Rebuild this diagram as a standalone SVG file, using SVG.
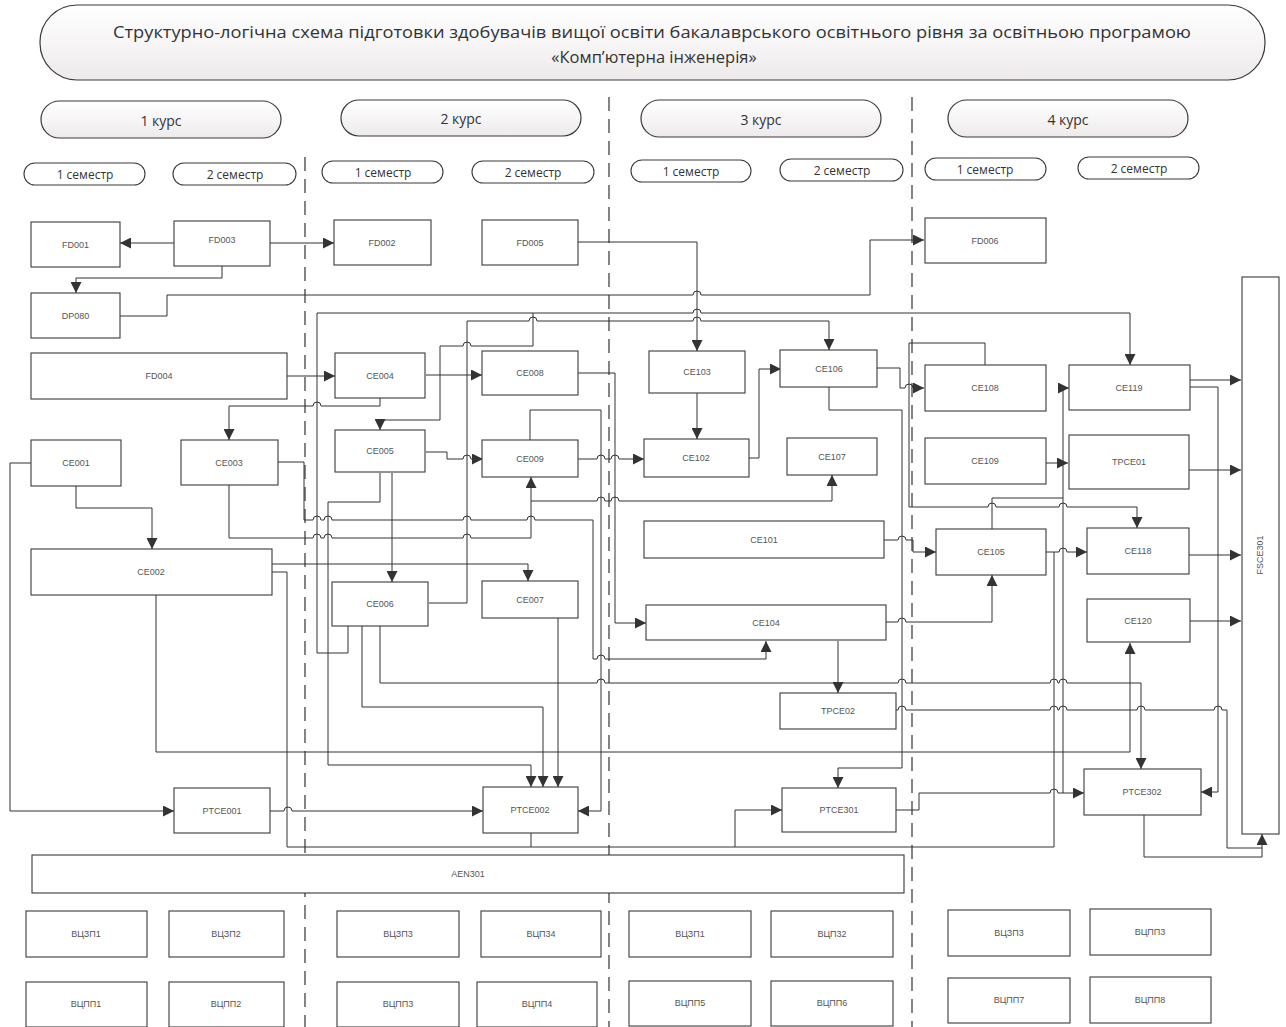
<svg xmlns="http://www.w3.org/2000/svg" width="1286" height="1027" viewBox="0 0 1286 1027">
<defs>
<linearGradient id="pg" x1="0" y1="0" x2="0" y2="1">
<stop offset="0" stop-color="#ffffff"/>
<stop offset="0.5" stop-color="#f7f5f6"/>
<stop offset="1" stop-color="#eeeaec"/>
</linearGradient>
<marker id="a" viewBox="0 0 10 10" refX="10" refY="5" markerWidth="11" markerHeight="11" markerUnits="userSpaceOnUse" orient="auto">
<path d="M0,0 L10,5 L0,10 z" fill="#333"/>
</marker>
</defs>
<style>
.pill{fill:url(#pg);stroke:#3a3a3a;stroke-width:1.2}
.sem{fill:#fff;stroke:#3a3a3a;stroke-width:1.1}
.n{fill:#fff;stroke:#3a3a3a;stroke-width:1.1}
.t{font-family:"Liberation Sans",Arial,sans-serif;font-size:9px;fill:#555;text-anchor:middle;dominant-baseline:central}
.ht{font-family:"Open Sans","Liberation Sans",sans-serif;fill:#333;text-anchor:middle;dominant-baseline:central}
.dash{stroke:#333;stroke-width:1.2;stroke-dasharray:14 8;fill:none}
.c{fill:none;stroke:#333;stroke-width:1}
.ar{marker-end:url(#a)}
</style>
<rect width="1286" height="1027" fill="#ffffff"/>

<g id="title">
<rect class="pill" x="40" y="5" width="1225" height="75" rx="37"/>
<text class="ht" x="652" y="31" font-size="16.5" textLength="1078" lengthAdjust="spacingAndGlyphs">Структурно-логічна схема підготовки здобувачів вищої освіти бакалаврського освітнього рівня за освітньою програмою</text>
<text class="ht" x="654" y="56" font-size="16.5">«Комп’ютерна інженерія»</text>
</g>

<g id="courses">
<rect class="pill" x="41" y="101" width="240" height="37" rx="18.5"/>
<text class="ht" x="161" y="120" font-size="14">1 курс</text>
<rect class="pill" x="341" y="100" width="240" height="36" rx="18"/>
<text class="ht" x="461" y="118" font-size="14">2 курс</text>
<rect class="pill" x="641" y="100" width="240" height="37" rx="18.5"/>
<text class="ht" x="761" y="119" font-size="14">3 курс</text>
<rect class="pill" x="948" y="100" width="240" height="37" rx="18.5"/>
<text class="ht" x="1068" y="119" font-size="14">4 курс</text>
</g>

<g id="semesters">
<rect class="sem" x="24" y="163" width="121" height="22" rx="11"/>
<text class="ht" x="85" y="174" font-size="12">1 семестр</text>
<rect class="sem" x="173" y="163" width="123" height="22" rx="11"/>
<text class="ht" x="235" y="174" font-size="12">2 семестр</text>
<rect class="sem" x="322" y="161" width="121" height="22" rx="11"/>
<text class="ht" x="383" y="172" font-size="12">1 семестр</text>
<rect class="sem" x="472" y="161" width="122" height="22" rx="11"/>
<text class="ht" x="533" y="172" font-size="12">2 семестр</text>
<rect class="sem" x="631" y="160" width="120" height="22" rx="11"/>
<text class="ht" x="691" y="171" font-size="12">1 семестр</text>
<rect class="sem" x="780" y="159" width="123" height="22" rx="11"/>
<text class="ht" x="842" y="170" font-size="12">2 семестр</text>
<rect class="sem" x="925" y="158" width="121" height="22" rx="11"/>
<text class="ht" x="985" y="169" font-size="12">1 семестр</text>
<rect class="sem" x="1078" y="157" width="121" height="22" rx="11"/>
<text class="ht" x="1139" y="168" font-size="12">2 семестр</text>
</g>

<g id="dividers">
<line class="dash" x1="305" y1="157" x2="305" y2="1027"/>
<line class="dash" x1="609" y1="97" x2="609" y2="1027"/>
<line class="dash" x1="912" y1="97" x2="912" y2="1027"/>
</g>

<g id="connectors">
<path class="c ar" d="M174 243 H120"/>
<path class="c ar" d="M270 243 H334"/>
<path class="c ar" d="M222 266 V278 H76 V293"/>
<path class="c ar" d="M120 316 H167 V295 H693 A4 4 0 0 1 701 295 H870 V240 H924"/>
<path class="c ar" d="M578 242 H697 V351"/>
<path class="c ar" d="M287 376 H335"/>
<path class="c ar" d="M426 375 H482"/>
<path class="c ar" d="M380 398 V406 H321 A4 4 0 0 0 313 406 H229 V440"/>
<path class="c ar" d="M348 626 V653 H317 V313 H693 A4 4 0 0 1 701 313 H1130 V365"/>
<path class="c ar" d="M533 313 V346 H471 A4 4 0 0 0 463 346 H440 V420 H380 V430"/>
<path class="c ar" d="M429 603 H467 V321 H529 A4 4 0 0 1 537 321 H693 A4 4 0 0 1 701 321 H829 V350"/>
<path class="c ar" d="M426 452 H447 V459 H463 A4 4 0 0 1 471 459 H483"/>
<path class="c ar" d="M392 473 V582"/>
<path class="c ar" d="M380 473 V502 H328 V765 H531 V787"/>
<path class="c ar" d="M362 626 V707 H543 V787"/>
<path class="c ar" d="M558 618 V787"/>
<path class="c ar" d="M380 626 V683 H597 A4 4 0 0 1 605 683 H898 A4 4 0 0 1 906 683 H1050 A4 4 0 0 1 1058 683 H1059 A4 4 0 0 1 1067 683 H1141 V769"/>
<path class="c ar" d="M156 595 V752 H1130 V643"/>
<path class="c ar" d="M530 441 V410 H601 V811 H578"/>
<path class="c ar" d="M578 459 H597 A4 4 0 0 1 605 459 H611 A4 4 0 0 1 619 459 H644"/>
<path class="c ar" d="M229 485 V538 H313 A4 4 0 0 1 321 538 H324 A4 4 0 0 1 332 538 H463 A4 4 0 0 1 471 538 H531 V477"/>
<path class="c ar" d="M531 501 H597 A4 4 0 0 1 605 501 H611 A4 4 0 0 1 619 501 H832 V475"/>
<path class="c ar" d="M278 462 H304 V520 H313 A4 4 0 0 1 321 520 H324 A4 4 0 0 1 332 520 H463 A4 4 0 0 1 471 520 H527 A4 4 0 0 1 535 520 H593 V659 H597 A4 4 0 0 1 605 659 H766 V641"/>
<path class="c ar" d="M272 564 H528 V581"/>
<path class="c" d="M272 572 H287 V847 H1054 V552"/>
<path class="c" d="M531 833 V847"/>
<path class="c ar" d="M735 847 V810 H782"/>
<path class="c ar" d="M1046 552 H1059 A4 4 0 0 1 1067 552 H1087"/>
<path class="c ar" d="M578 373 H615 V623 H646"/>
<path class="c ar" d="M748 458 H759 V369 H781"/>
<path class="c ar" d="M697 393 V439"/>
<path class="c ar" d="M877 368 H900 V388 H905 A4 4 0 0 1 913 388 H924"/>
<path class="c ar" d="M829 387 V410 H902 V768 H838 V788"/>
<path class="c ar" d="M985 365 V343 H909 V507 H988 A4 4 0 0 1 996 507 H1059 A4 4 0 0 1 1067 507 H1137 V528"/>
<path class="c" d="M992 529 V498 H1063"/>
<path class="c ar" d="M1063 793 V388 H1069"/>
<path class="c ar" d="M884 540 H898 A4 4 0 0 1 906 540 H913 V552 H936"/>
<path class="c ar" d="M886 622 H898 A4 4 0 0 1 906 622 H992 V575"/>
<path class="c ar" d="M838 641 V693"/>
<path class="c ar" d="M1046 463 H1068"/>
<path class="c ar" d="M1190 380 H1241"/>
<path class="c ar" d="M1190 387 H1218 V792 H1201"/>
<path class="c ar" d="M1189 470 H1241"/>
<path class="c ar" d="M1189 555 H1241"/>
<path class="c ar" d="M1190 621 H1241"/>
<path class="c" d="M896 710 H898 A4 4 0 0 1 906 710 H1050 A4 4 0 0 1 1058 710 H1059 A4 4 0 0 1 1067 710 H1137 A4 4 0 0 1 1145 710 H1214 A4 4 0 0 1 1222 710 H1227 V848 H1262"/>
<path class="c ar" d="M1144 815 V857 H1262 V834"/>
<path class="c ar" d="M896 810 H919 V793 H1050 A4 4 0 0 1 1058 793 H1084"/>
<path class="c ar" d="M32 463 H10 V811 H174"/>
<path class="c ar" d="M76 486 V508 H152 V549"/>
<path class="c ar" d="M270 811 H284 A4 4 0 0 1 292 811 H483"/>
</g>

<g id="FD001"><rect class="n" x="31" y="222" width="89" height="45"/><text class="t" x="75.5" y="244.5">FD001</text></g>
<g id="FD003"><rect class="n" x="174" y="221" width="96" height="45"/><text class="t" x="222" y="240">FD003</text></g>
<g id="DP080"><rect class="n" x="31" y="293" width="89" height="45"/><text class="t" x="75.5" y="316">DP080</text></g>
<g id="FD004"><rect class="n" x="31" y="353" width="256" height="46"/><text class="t" x="159" y="376">FD004</text></g>
<g id="FD002"><rect class="n" x="334" y="220" width="97" height="45"/><text class="t" x="382" y="243">FD002</text></g>
<g id="FD005"><rect class="n" x="482" y="220" width="96" height="45"/><text class="t" x="530" y="243">FD005</text></g>
<g id="FD006"><rect class="n" x="925" y="218" width="121" height="45"/><text class="t" x="985" y="241">FD006</text></g>
<g id="CE004"><rect class="n" x="335" y="353" width="90" height="45"/><text class="t" x="380" y="376">CE004</text></g>
<g id="CE008"><rect class="n" x="482" y="351" width="96" height="44"/><text class="t" x="530" y="373">CE008</text></g>
<g id="CE103"><rect class="n" x="649" y="351" width="96" height="42"/><text class="t" x="697" y="372">CE103</text></g>
<g id="CE106"><rect class="n" x="780" y="350" width="97" height="37"/><text class="t" x="829" y="369">CE106</text></g>
<g id="CE108"><rect class="n" x="925" y="365" width="121" height="46"/><text class="t" x="985" y="388">CE108</text></g>
<g id="CE119"><rect class="n" x="1069" y="365" width="121" height="45"/><text class="t" x="1129" y="388">CE119</text></g>
<g id="CE001"><rect class="n" x="31" y="440" width="90" height="46"/><text class="t" x="76" y="463">CE001</text></g>
<g id="CE003"><rect class="n" x="181" y="440" width="97" height="45"/><text class="t" x="229" y="463">CE003</text></g>
<g id="CE005"><rect class="n" x="335" y="430" width="90" height="42"/><text class="t" x="380" y="451">CE005</text></g>
<g id="CE009"><rect class="n" x="482" y="440" width="96" height="37"/><text class="t" x="530" y="459">CE009</text></g>
<g id="CE102"><rect class="n" x="644" y="439" width="105" height="38"/><text class="t" x="696" y="458">CE102</text></g>
<g id="CE107"><rect class="n" x="787" y="438" width="90" height="37"/><text class="t" x="832" y="457">CE107</text></g>
<g id="CE109"><rect class="n" x="925" y="438" width="121" height="46"/><text class="t" x="985" y="461">CE109</text></g>
<g id="TPCE01"><rect class="n" x="1069" y="435" width="120" height="54"/><text class="t" x="1129" y="462">TPCE01</text></g>
<g id="CE101"><rect class="n" x="644" y="521" width="240" height="37"/><text class="t" x="764" y="540">CE101</text></g>
<g id="CE105"><rect class="n" x="936" y="529" width="110" height="46"/><text class="t" x="991" y="552">CE105</text></g>
<g id="CE118"><rect class="n" x="1087" y="528" width="102" height="46"/><text class="t" x="1138" y="551">CE118</text></g>
<g id="CE002"><rect class="n" x="31" y="549" width="241" height="46"/><text class="t" x="151" y="572">CE002</text></g>
<g id="CE006"><rect class="n" x="332" y="582" width="96" height="44"/><text class="t" x="380" y="604">CE006</text></g>
<g id="CE007"><rect class="n" x="482" y="581" width="96" height="37"/><text class="t" x="530" y="600">CE007</text></g>
<g id="CE104"><rect class="n" x="646" y="605" width="240" height="35"/><text class="t" x="766" y="623">CE104</text></g>
<g id="CE120"><rect class="n" x="1087" y="599" width="103" height="43"/><text class="t" x="1138" y="621">CE120</text></g>
<g id="TPCE02"><rect class="n" x="780" y="693" width="116" height="36"/><text class="t" x="838" y="711">TPCE02</text></g>
<g id="PTCE001"><rect class="n" x="174" y="788" width="96" height="45"/><text class="t" x="222" y="811">PTCE001</text></g>
<g id="PTCE002"><rect class="n" x="483" y="787" width="95" height="46"/><text class="t" x="530" y="810">PTCE002</text></g>
<g id="PTCE301"><rect class="n" x="782" y="788" width="114" height="44"/><text class="t" x="839" y="810">PTCE301</text></g>
<g id="PTCE302"><rect class="n" x="1084" y="769" width="117" height="46"/><text class="t" x="1142" y="792">PTCE302</text></g>
<g id="FSCE301"><rect class="n" x="1242" y="277" width="37" height="557"/><text class="t" x="1260" y="555" font-size="11" transform="rotate(-90 1260 555)">FSCE301</text></g>

<g id="AEN301"><rect class="n" x="32" y="855" width="872" height="38"/><text class="t" x="468" y="874" font-size="11">AEN301</text></g>

<g id="VCZP1a"><rect class="n" x="26" y="911" width="121" height="46"/><text class="t" x="86" y="934">ВЦЗП1</text></g>
<g id="VCZP2"><rect class="n" x="169" y="911" width="115" height="46"/><text class="t" x="226" y="934">ВЦЗП2</text></g>
<g id="VCZP3a"><rect class="n" x="337" y="911" width="122" height="46"/><text class="t" x="398" y="934">ВЦЗП3</text></g>
<g id="VCP34"><rect class="n" x="481" y="911" width="120" height="46"/><text class="t" x="541" y="934">ВЦП34</text></g>
<g id="VCZP1b"><rect class="n" x="629" y="911" width="122" height="46"/><text class="t" x="690" y="934">ВЦЗП1</text></g>
<g id="VCP32"><rect class="n" x="771" y="911" width="122" height="46"/><text class="t" x="832" y="934">ВЦП32</text></g>
<g id="VCZP3b"><rect class="n" x="948" y="910" width="122" height="46"/><text class="t" x="1009" y="933">ВЦЗП3</text></g>
<g id="VCPP3b"><rect class="n" x="1090" y="909" width="121" height="46"/><text class="t" x="1150" y="932">ВЦПП3</text></g>

<g id="VCPP1"><rect class="n" x="26" y="982" width="121" height="45"/><text class="t" x="86" y="1004">ВЦПП1</text></g>
<g id="VCPP2"><rect class="n" x="169" y="982" width="115" height="45"/><text class="t" x="226" y="1004">ВЦПП2</text></g>
<g id="VCPP3a"><rect class="n" x="337" y="982" width="122" height="45"/><text class="t" x="398" y="1004">ВЦПП3</text></g>
<g id="VCPP4"><rect class="n" x="477" y="982" width="120" height="45"/><text class="t" x="537" y="1004">ВЦПП4</text></g>
<g id="VCPP5"><rect class="n" x="629" y="981" width="122" height="45"/><text class="t" x="690" y="1003">ВЦПП5</text></g>
<g id="VCPP6"><rect class="n" x="771" y="981" width="122" height="45"/><text class="t" x="832" y="1003">ВЦПП6</text></g>
<g id="VCPP7"><rect class="n" x="948" y="978" width="122" height="45"/><text class="t" x="1009" y="1000">ВЦПП7</text></g>
<g id="VCPP8"><rect class="n" x="1090" y="977" width="121" height="46"/><text class="t" x="1150" y="1000">ВЦПП8</text></g>
</svg>
